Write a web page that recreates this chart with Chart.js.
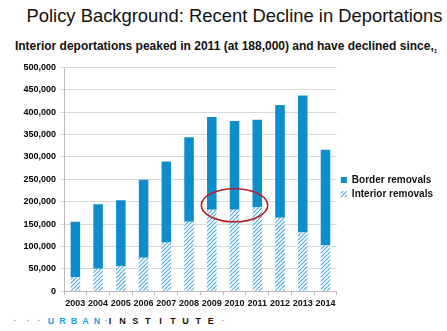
<!DOCTYPE html>
<html>
<head>
<meta charset="utf-8">
<script src="https://cdn.jsdelivr.net/npm/chart.js@4/dist/chart.umd.min.js"></script>
<style>
  body { margin: 0; background: #fff; font-family: "Liberation Sans", Arial, sans-serif; }
  #wrap { position: relative; width: 447px; height: 331px; overflow: hidden; }
  #title { position: absolute; left: 0; top: 5px; width: 469px; text-align: center; font-size: 18.4px; color: #111; white-space: nowrap; }
  #sub { position: absolute; left: 0; top: 39px; width: 452px; text-align: center; font-size: 12px; font-weight: bold; color: #111; white-space: nowrap; }
  #sub sub { font-size: 6px; }
  #chartBox { position: absolute; left: 0; top: 58px; width: 447px; height: 254px; }
  #footer { position: absolute; left: 0; top: 316px; width: 447px; height: 14px; }
  #footer span { position: absolute; width: 12px; margin-left: -6px; text-align: center; font-size: 9px; font-weight: bold; }
</style>
</head>
<body>
<div id="wrap">
  <div id="title">Policy Background: Recent Decline in Deportations</div>
  <div id="sub">Interior deportations peaked in 2011 (at 188,000) and have declined since,<sub>1</sub></div>
  <div id="chartBox"><canvas id="chartContainer"></canvas></div>
  <div id="footer"></div>
</div>
<script>
const years = ['2003', '2004', '2005', '2006', '2007', '2008', '2009', '2010', '2011', '2012', '2013', '2014'];
const interiorRemovals = [31000, 50000, 56000, 75000, 109000, 155000, 182000, 182000, 188000, 164000, 131000, 102000];
const borderRemovals = [124000, 144000, 147000, 174000, 181000, 189000, 207000, 198000, 195000, 252000, 306000, 214000];
const yTicks = [0, 50000, 100000, 150000, 200000, 250000, 300000, 350000, 400000, 450000, 500000];

const blue = '#0e8dcc';
Chart.defaults.font.family = '"Liberation Sans", Arial, sans-serif';

// footer logo, letters on a fixed pitch
const footer = document.getElementById('footer');
function put(str, x0, pitch, color) {
    [...str].forEach((ch, i) => {
        const s = document.createElement('span');
        s.textContent = ch;
        s.style.left = (x0 + i * pitch) + 'px';
        s.style.color = color;
        footer.appendChild(s);
    });
}
put('·', 15, 0, '#999');
put('·', 28, 0, '#999');
put('·', 39, 0, '#999');
put('URBAN', 51, 11.5, '#1ba0dd');
put('·', 106, 0, '#999');
put('INSTITUTE', 110, 12.6, '#111');
put('·', 223, 0, '#999');

// diagonal hatch for the interior bars
function hatch() {
    const c = document.createElement('canvas');
    c.width = 4; c.height = 4;
    const g = c.getContext('2d');
    g.fillStyle = '#fff';
    g.fillRect(0, 0, 4, 4);
    g.strokeStyle = '#4aa9dc';
    g.lineWidth = 1.1;
    g.beginPath();
    g.moveTo(0, 4); g.lineTo(4, 0);
    g.moveTo(-1, 1); g.lineTo(1, -1);
    g.moveTo(3, 5); g.lineTo(5, 3);
    g.stroke();
    return g.createPattern(c, 'repeat');
}
const hatchFill = hatch();

// red ellipse around 2009-2011
const ellipsePlugin = {
    id: 'ellipse',
    afterDatasetsDraw(chart) {
        const x = chart.scales.x, y = chart.scales.y;
        const cx = x.getPixelForValue(7);
        const rx = (x.getPixelForValue(8) - x.getPixelForValue(6)) * 0.73;
        const cy = y.getPixelForValue(192000);
        const ry = Math.abs(y.getPixelForValue(37000) - y.getPixelForValue(0));
        const ctx = chart.ctx;
        ctx.save();
        ctx.strokeStyle = '#b5222a';
        ctx.lineWidth = 1.6;
        ctx.beginPath();
        ctx.ellipse(cx, cy, rx, ry, 0, 0, Math.PI * 2);
        ctx.stroke();
        ctx.restore();
    }
};

const ctx = document.getElementById('chartContainer').getContext('2d');
new Chart(ctx, {
    type: 'bar',
    data: {
        labels: years,
        datasets: [{
            label: 'Interior removals',
            data: interiorRemovals,
            backgroundColor: hatchFill,
            borderWidth: 0
        }, {
            label: 'Border removals',
            data: borderRemovals,
            backgroundColor: blue,
            borderWidth: 0
        }]
    },
    options: {
        responsive: true,
        maintainAspectRatio: false,
        animation: false,
        categoryPercentage: 1,
        barPercentage: 0.42,
        layout: { padding: { top: 4, right: 4, left: 0, bottom: 0 } },
        plugins: {
            tooltip: { enabled: false },
            legend: {
                position: 'right',
                reverse: true,
                labels: {
                    boxWidth: 6,
                    boxHeight: 6,
                    padding: 4,
                    color: '#111',
                    font: { size: 10, weight: 'bold' }
                }
            }
        },
        scales: {
            x: {
                stacked: true,
                grid: { display: true, drawOnChartArea: false, tickLength: 4, color: '#bbb', offset: true },
                border: { color: '#bbb' },
                ticks: { color: '#111', padding: 3, maxRotation: 0, autoSkip: false, font: { size: 9, weight: 'bold' } }
            },
            y: {
                stacked: true,
                min: 0,
                max: 500000,
                afterBuildTicks(scale) { scale.ticks = yTicks.map(v => ({ value: v })); },
                afterFit(scale) { scale.width = 64; },
                grid: { color: '#d9d9d9', tickLength: 4 },
                border: { color: '#bbb' },
                ticks: {
                    color: '#000',
                    padding: 4,
                    font: { size: 9, weight: 'bold' },
                    callback: v => v.toLocaleString('en-US')
                }
            }
        }
    },
    plugins: [ellipsePlugin]
});
</script>
</body>
</html>
